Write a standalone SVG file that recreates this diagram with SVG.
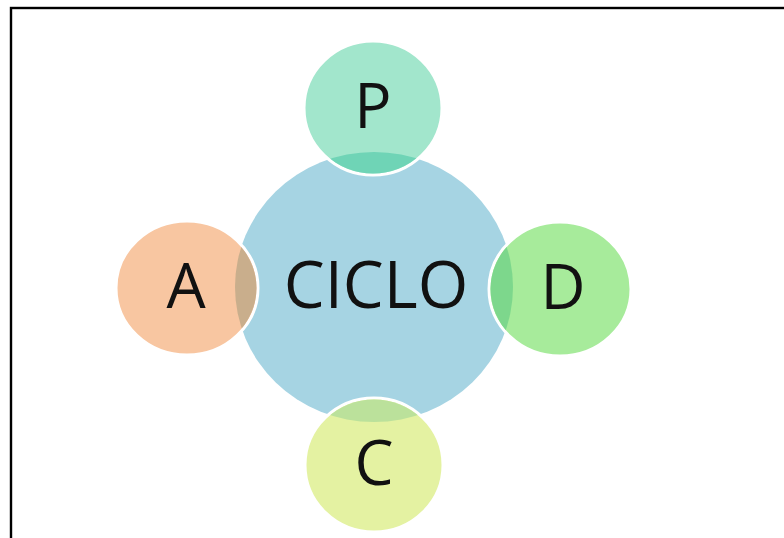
<svg xmlns="http://www.w3.org/2000/svg" width="784" height="538" viewBox="0 0 784 538">
  <style>
    .lbl { font-family: "Open Sans", "Liberation Sans", sans-serif; font-size: 62px; fill: #111; text-anchor: middle; }
    .big { font-size: 65px; }
    .ring { stroke: #ffffff; stroke-width: 3; }
  </style>
  <defs>
    <clipPath id="hub-clip">
      <ellipse cx="374" cy="287" rx="139" ry="135"/>
    </clipPath>
  </defs>
  <rect width="784" height="538" fill="#ffffff"/>
  <!-- frame: only top and left edges fall inside the canvas -->
  <rect x="11" y="8" width="820" height="600" fill="none" stroke="#000" stroke-width="2.4"/>

  <g id="ciclo">
    <ellipse cx="374" cy="287" rx="139" ry="135" fill="#a6d4e3"/>
    <text class="lbl big" x="376" y="308">CICLO</text>
  </g>

  <g id="p">
    <ellipse class="ring" cx="373" cy="108" rx="69" ry="67" fill="#a2e6cc"/>
    <ellipse cx="373" cy="108" rx="67.5" ry="65.5" fill="#6fd4b6" clip-path="url(#hub-clip)"/>
    <text class="lbl" x="373" y="128">P</text>
  </g>

  <g id="a">
    <ellipse class="ring" cx="187" cy="288" rx="71" ry="67" fill="#f8c6a1"/>
    <ellipse cx="187" cy="288" rx="69.5" ry="65.5" fill="#c9ae8c" clip-path="url(#hub-clip)"/>
    <text class="lbl" x="186" y="308">A</text>
  </g>

  <g id="d">
    <ellipse class="ring" cx="560" cy="289" rx="71" ry="67" fill="#a7eb9b"/>
    <ellipse cx="560" cy="289" rx="69.5" ry="65.5" fill="#7dd78c" clip-path="url(#hub-clip)"/>
    <text class="lbl" x="563" y="309">D</text>
  </g>

  <g id="c">
    <ellipse class="ring" cx="374" cy="465" rx="69" ry="67" fill="#e4f2a2"/>
    <ellipse cx="374" cy="465" rx="67.5" ry="65.5" fill="#bbe19b" clip-path="url(#hub-clip)"/>
    <text class="lbl" x="374" y="485">C</text>
  </g>

  <g id="connectors"/>
</svg>
